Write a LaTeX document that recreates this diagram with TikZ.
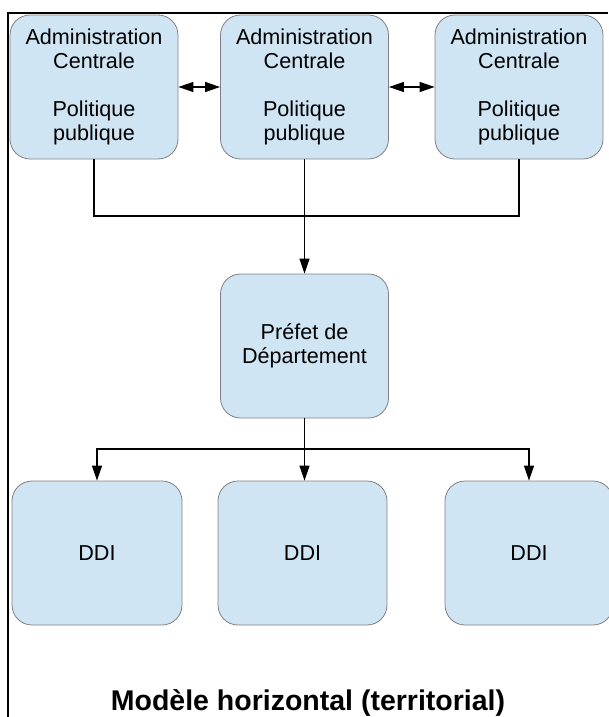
\documentclass[tikz,border=0pt]{standalone}
\usepackage{fontspec}
\setmainfont{Liberation Sans}
\usepackage{tikz}
\usetikzlibrary{arrows.meta}
\usetikzlibrary{positioning}
\definecolor{boxblue}{HTML}{CFE5F3}
\definecolor{boxgray}{HTML}{808080}

\begin{document}
\begin{tikzpicture}[x=1pt,y=-1pt,
  boite/.style={draw=boxgray,fill=boxblue,line width=0.8pt,rounded corners=20pt,
    minimum width=168pt,minimum height=144pt,align=center,
    font=\fontsize{21.6}{24}\selectfont},
  fleche/.style={line width=1.2pt,-{Triangle[length=15pt,width=10pt]}},
  lien/.style={line width=1.2pt}]
\useasboundingbox (0,0) rectangle (608,717);

\draw[line width=2pt] (8,717)--(8,13)--(608,13);

\node[boite] (ac1) at (94,87) {Administration\\Centrale\\[24pt]Politique\\publique};
\node[boite] (ac2) at (304.5,87) {Administration\\Centrale\\[24pt]Politique\\publique};
\node[boite] (ac3) at (519,87) {Administration\\Centrale\\[24pt]Politique\\publique};

\node[boite] (prefet) at (304.5,346) {Préfet de\\Département};

\node[boite,minimum width=170pt] (ddi1) at (97,553) {DDI};
\node[boite,minimum width=169pt] (ddi2) at (302.5,553) {DDI};
\node[boite] (ddi3) at (529,553) {DDI};

\coordinate (haut) at (304.5,216);
\coordinate (bas) at (304.5,449);

\draw[fleche,{Triangle[length=15pt,width=10pt]}-{Triangle[length=15pt,width=10pt]}] (ac1.east)--(ac2.west);
\draw[fleche,{Triangle[length=15pt,width=10pt]}-{Triangle[length=15pt,width=10pt]}] (ac2.east)--(ac3.west);

\draw[lien] (ac1.south) |- (haut) -| (ac3.south);
\draw[fleche] (ac2.south)--(prefet.north);

\draw[fleche] (prefet.south)--(bas) -| (ddi1.north);
\draw[fleche] (bas)--(bas |- ddi2.north);
\draw[fleche] (bas) -| (ddi3.north);

\node[font=\bfseries\fontsize{28.5}{30}\selectfont,anchor=base] (titre) at (308,710) {Modèle horizontal (territorial)};

\end{tikzpicture}
\end{document}
